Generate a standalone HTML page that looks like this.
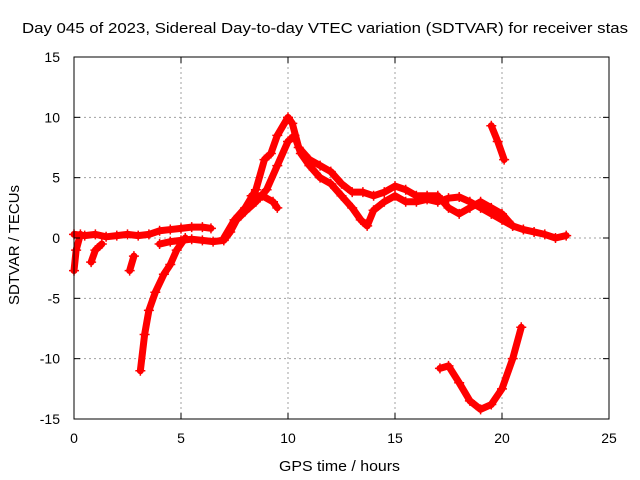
<!DOCTYPE html>
<html><head><meta charset="utf-8"><style>
body{margin:0;background:#fff;}
svg{display:block;font-family:"Liberation Sans",sans-serif;}
</style></head><body>
<svg id="chart" width="640" height="480" xmlns="http://www.w3.org/2000/svg">
<rect width="640" height="480" fill="#fff"/>
<text x="22" y="33" font-size="15" textLength="606" lengthAdjust="spacingAndGlyphs">Day 045 of 2023, Sidereal Day-to-day VTEC variation (SDTVAR) for receiver stas</text>
<g id="grid"></g>
<g id="marks"></g>
<rect x="74" y="57" width="535" height="362" fill="none" stroke="#000" stroke-width="1"/>
<g id="ticks"></g>
<text x="279" y="471" font-size="15" textLength="121" lengthAdjust="spacingAndGlyphs">GPS time / hours</text>
<text transform="translate(19,305) rotate(-90)" font-size="15" textLength="120" lengthAdjust="spacingAndGlyphs">SDTVAR / TECUs</text>
</svg>
<script>
const xTicks=[0,5,10,15,20,25];
const yTicks=[-15,-10,-5,0,5,10,15];
const trace1=[[0,0.3],[0.5,0.2],[1,0.3],[1.5,0.1],[2,0.2],[2.5,0.3],[3,0.2],[3.5,0.3],[4,0.6],[4.5,0.7],[5,0.8],[5.5,0.9],[6,0.9],[6.4,0.8]];
const trace2=[[4,-0.5],[4.5,-0.3],[5,-0.2],[5.5,-0.1],[6,-0.2],[6.5,-0.3],[7,-0.2],[7.3,0.5],[7.6,1.5],[8,2.2],[8.5,3],[9,4],[9.5,6],[10,8],[10.3,8.5],[10.6,7],[11,6],[11.5,5],[12,4.5],[12.5,3.5],[13,2.5],[13.4,1.5],[13.7,1],[14,2.3],[14.5,3],[15,3.5],[15.5,3],[16,3],[16.5,3.2],[17,3],[17.5,3.3],[18,3.4],[18.5,3],[19,2.5],[19.5,2],[20,1.5],[20.5,1],[21,0.7],[21.5,0.5],[22,0.3],[22.5,0],[23,0.2]];
const trace3=[[7,0],[7.5,1.5],[8,2.5],[8.5,4],[8.9,6.5],[9.2,7],[9.5,8.5],[10,10],[10.2,9.5],[10.5,7.5],[11,6.5],[11.5,6],[12,5.5],[12.5,4.5],[13,3.8],[13.5,3.8],[14,3.5],[14.5,3.8],[15,4.3],[15.5,4],[16,3.5],[16.5,3.5],[17,3.5],[17.5,2.5],[18,2],[18.5,2.5],[19,3],[19.5,2.5],[20,2],[20.5,1]];
const trace4=[[8.3,3.5],[8.8,3.5],[9.3,3],[9.5,2.5]];
const trace5=[[0,-2.7],[0.1,-1],[0.3,0.3]];
const trace6=[[0.8,-2],[1,-1],[1.3,-0.5]];
const trace7=[[2.6,-2.7],[2.8,-1.5]];
const trace8=[[3.1,-11],[3.3,-8],[3.5,-6],[3.8,-4.5],[4.2,-3],[4.5,-2.2],[4.8,-1],[5.2,0]];
const trace9=[[19.5,9.3],[19.8,8],[20.1,6.5]];
const trace10=[[17.1,-10.8],[17.5,-10.6],[18,-12],[18.5,-13.5],[19,-14.2],[19.5,-13.8],[20,-12.5],[20.5,-10],[20.9,-7.4]];
const traces=[trace1,trace2,trace3,trace4,trace5,trace6,trace7,trace8,trace9,trace10];
const X0=74,X1=609,Y0=419,Y1=57;
function sx(v){return X0+(v-0)/(25-0)*(X1-X0);}
function sy(v){return Y0-(v+15)/30*(Y0-Y1);}
const NS="http://www.w3.org/2000/svg";
function mk(t,a,p){const e=document.createElementNS(NS,t);for(const k in a)e.setAttribute(k,a[k]);p.appendChild(e);return e;}
const grid=document.getElementById('grid'),ticks=document.getElementById('ticks'),marks=document.getElementById('marks');
xTicks.forEach(v=>{
  const x=sx(v);
  if(v>0&&v<25){const g=mk('line',{x1:x,x2:x,y1:Y1,y2:Y0,stroke:'#a0a0a0','stroke-dasharray':'2,3'},grid);
  
  }
  mk('line',{x1:x,x2:x,y1:Y0,y2:Y0-6,stroke:'#000'},ticks);
  mk('line',{x1:x,x2:x,y1:Y1,y2:Y1+6,stroke:'#000'},ticks);
  const t=mk('text',{x:x,y:Y0+24,'font-size':14,'text-anchor':'middle'},ticks);t.textContent=v;
  
  
});
yTicks.forEach(v=>{
  const y=sy(v);
  if(v>-15&&v<15){const g=mk('line',{x1:X0,x2:X1,y1:y,y2:y,stroke:'#a0a0a0','stroke-dasharray':'2,3'},grid);
  
  }
  mk('line',{x1:X0,x2:X0+6,y1:y,y2:y,stroke:'#000'},ticks);
  mk('line',{x1:X1,x2:X1-6,y1:y,y2:y,stroke:'#000'},ticks);
  const t=mk('text',{x:X0-14,y:y+5,'font-size':14,'text-anchor':'end'},ticks);t.textContent=v;
  
  
});
traces.forEach((tr,i)=>{
  const pl=mk('polyline',{points:tr.map(p=>sx(p[0])+','+sy(p[1])).join(' '),fill:'none',stroke:'#ff0000','stroke-width':7,'stroke-linejoin':'round','stroke-linecap':'round'},marks);
  
  
  tr.forEach(p=>{
    const x=sx(p[0]),y=sy(p[1]);
    const m=mk('path',{d:`M${x-5},${y}H${x+5}M${x},${y-5}V${y+5}`,stroke:'#ff0000','stroke-width':1.5},marks);
    
    
  });
});
</script>
</body></html>
